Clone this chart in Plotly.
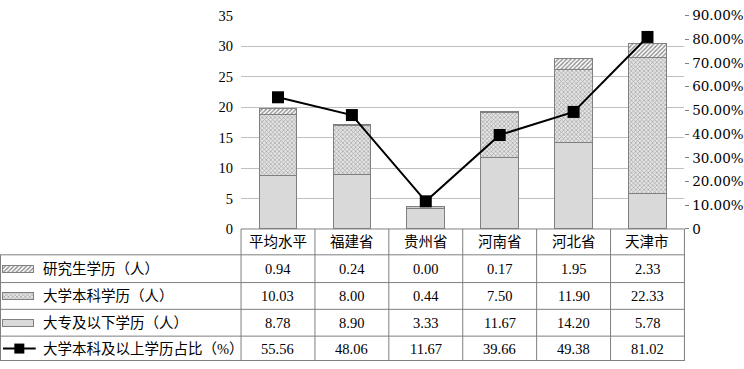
import plotly.graph_objects as go

cats = ['平均水平', '福建省', '贵州省', '河南省', '河北省', '天津市']
grad = [0.94, 0.24, 0.00, 0.17, 1.95, 2.33]
bach = [10.03, 8.00, 0.44, 7.50, 11.90, 22.33]
college = [8.78, 8.90, 3.33, 11.67, 14.20, 5.78]
ratio = [55.56, 48.06, 11.67, 39.66, 49.38, 81.02]
row_names = ['研究生学历（人）', '大学本科学历（人）', '大专及以下学历（人）', '大学本科及以上学历占比（%）']
left_ticks = [0, 5, 10, 15, 20, 25, 30, 35]
right_ticks = [0, 10, 20, 30, 40, 50, 60, 70, 80, 90]

W, H = 744, 369
FONT = "Liberation Serif, 'Noto Sans CJK SC', serif"
GRID = '#bfbfbf'
BORDER = '#7f7f7f'

def px(x):
    return x / W

def py(y):
    return 1 - y / H

X0, X1, Y0, Y1 = 243, 690, 8, 231

pat_grad = dict(shape='/', fgcolor='#1a1a1a', bgcolor='#ffffff', size=3, solidity=0.45)
pat_bach = dict(shape='x', fgcolor='#5e5e5e', bgcolor='#e4e4e4', size=3, solidity=0.4)

fig = go.Figure()
fig.add_trace(go.Bar(x=cats, y=college, name=row_names[2], marker=dict(color='#d9d9d9', line=dict(color='#808080', width=1)), width=0.51))
fig.add_trace(go.Bar(x=cats, y=bach, name=row_names[1], marker=dict(color='#e4e4e4', pattern=pat_bach, line=dict(color='#808080', width=1)), width=0.51))
fig.add_trace(go.Bar(x=cats, y=grad, name=row_names[0], marker=dict(color='#ffffff', pattern=pat_grad, line=dict(color='#808080', width=1)), width=0.51))
fig.add_trace(go.Scatter(x=cats, y=ratio, yaxis='y2', mode='lines+markers', name=row_names[3],
                         line=dict(color='#000000', width=2), marker=dict(symbol='square', size=12, color='#000000'),
                         cliponaxis=False))

row_y = [272.5, 301, 329, 356]
fig.add_trace(go.Bar(x=[31], y=[row_y[0]], base=[3], orientation='h', width=7, xaxis='x3', yaxis='y3',
                     marker=dict(color='#ffffff', pattern=pat_grad, line=dict(color='#808080', width=1))))
fig.add_trace(go.Bar(x=[31], y=[row_y[1]], base=[3], orientation='h', width=7, xaxis='x3', yaxis='y3',
                     marker=dict(color='#e4e4e4', pattern=pat_bach, line=dict(color='#808080', width=1))))
fig.add_trace(go.Bar(x=[31], y=[row_y[2]], base=[3], orientation='h', width=7, xaxis='x3', yaxis='y3',
                     marker=dict(color='#d9d9d9', line=dict(color='#808080', width=1))))
fig.add_trace(go.Scatter(x=[3, 19.5, 36], y=[row_y[3]] * 3, mode='lines', xaxis='x3', yaxis='y3',
                         line=dict(color='#000000', width=2)))
fig.add_trace(go.Scatter(x=[19.5], y=[row_y[3]], mode='markers', xaxis='x3', yaxis='y3',
                         marker=dict(symbol='square', size=10, color='#000000')))

shapes = []
def line(x0, y0, x1, y1, color=BORDER):
    shapes.append(dict(type='line', xref='paper', yref='paper', x0=px(x0), y0=py(y0), x1=px(x1), y1=py(y1),
                       line=dict(color=color, width=1)))

line(X0, Y1, X1, Y1)
for yy in [258, 287, 315, 343, 368.5]:
    line(0, yy, X1, yy)
line(0.5, 258, 0.5, 369)
colw = (X1 - X0) / len(cats)
for i in range(len(cats) + 1):
    line(X0 + i * colw, Y1, X0 + i * colw, 369)

annotations = []
tf = dict(family=FONT, size=14.5, color='#000000')
for i, c in enumerate(cats):
    annotations.append(dict(x=c, xref='x', y=py(244.5), yref='paper', text=c, showarrow=False, font=tf,
                            xanchor='center', yanchor='middle'))
for r, vals in enumerate([grad, bach, college, ratio]):
    for i, c in enumerate(cats):
        annotations.append(dict(x=c, xref='x', y=py(row_y[r]), yref='paper', text=f'{vals[i]:.2f}',
                                showarrow=False, font=tf, xanchor='center', yanchor='middle'))
    annotations.append(dict(x=px(41), xref='paper', y=py(row_y[r]), yref='paper', text=row_names[r],
                            showarrow=False, font=tf, xanchor='left', yanchor='middle'))

fig.update_layout(
    width=W, height=H, margin=dict(l=0, r=0, t=0, b=0), autosize=False,
    paper_bgcolor='#ffffff', plot_bgcolor='#ffffff',
    barmode='stack', showlegend=False,
    font=dict(family=FONT, size=14, color='#000000'),
    xaxis=dict(domain=[px(X0), px(X1)], range=[-0.5, 5.5], showticklabels=False, showgrid=False,
               zeroline=False, showline=False, ticks=''),
    yaxis=dict(domain=[py(Y1), py(Y0)], range=[0, 35], tickvals=left_ticks, showgrid=True, gridcolor=GRID,
               gridwidth=1, zeroline=False, showline=False, ticks='', ticklabelstandoff=7,
               tickfont=dict(family=FONT, size=14.5, color='#000000')),
    yaxis2=dict(overlaying='y', side='right', range=[0, 90], tickvals=right_ticks,
                ticktext=['0'] + [f'{v:.2f}%' for v in right_ticks[1:]], showgrid=False, zeroline=False,
                showline=False, ticks='outside', ticklen=4, tickcolor=BORDER, ticklabelstandoff=0,
                tickfont=dict(family="'DejaVu Serif', serif", size=13.5, color='#000000')),
    xaxis3=dict(domain=[0, px(X0)], range=[0, X0], visible=False, anchor='y3'),
    yaxis3=dict(domain=[0, py(Y1)], range=[369, Y1], visible=False, anchor='x3'),
    shapes=shapes, annotations=annotations,
)

fig.write_html('out.html', config=dict(displayModeBar=False, responsive=False),
               post_script="document.documentElement.style.margin='0';document.body.style.margin='0';"
                           "document.documentElement.style.overflow='hidden';document.body.style.overflow='hidden';")
